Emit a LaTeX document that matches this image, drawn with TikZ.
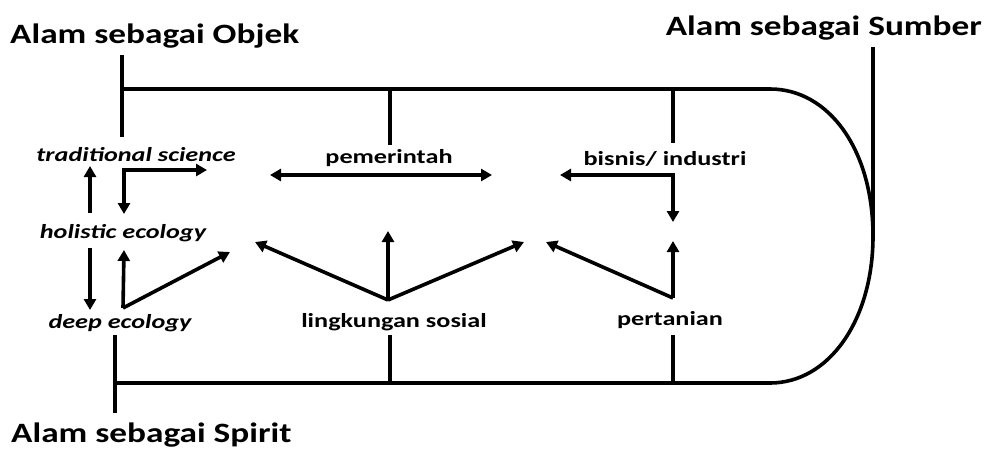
\documentclass[tikz,border=0pt]{standalone}
\usepackage{graphicx}
\usepackage{fontspec}
\setmainfont{Carlito}
\usetikzlibrary{arrows.meta}
\newcommand{\wideT}[1]{\scalebox{1.26}[1]{#1}}
\newcommand{\wideL}[1]{\scalebox{1.31}[1]{#1}}
\begin{document}
\begin{tikzpicture}[x=1pt,y=-1pt,
  ln/.style={line width=3.6pt},
  arr/.style={line width=3.6pt,-{Triangle[length=11pt,width=12pt]}},
  dar/.style={line width=3.6pt,{Triangle[length=11pt,width=12pt]}-{Triangle[length=11pt,width=12pt]}},
  ttl/.style={font=\fontsize{28}{30}\selectfont\bfseries,inner sep=0pt},
  lab/.style={font=\fontsize{20}{22}\selectfont\bfseries,inner sep=0pt},
  ilab/.style={font=\fontsize{20}{22}\selectfont\bfseries\itshape,inner sep=0pt}]
\useasboundingbox (0,0) rectangle (987,448);
% titles
\node[ttl,anchor=base west] (obj) at (10,43) {\wideT{Alam sebagai Objek}};
\node[ttl,anchor=base east] (sum) at (982,35) {\wideT{Alam sebagai Sumber}};
\node[ttl,anchor=base west] (spi) at (11,442) {\wideT{Alam sebagai Spirit}};
% labels
\node[ilab,anchor=base] (ts) at (136,161) {\wideL{traditional science}};
\node[ilab,anchor=base] (he) at (123,238) {\wideL{holistic ecology}};
\node[ilab,anchor=base] (de) at (120,328) {\wideL{deep ecology}};
\node[lab,anchor=base] (pem) at (389,163) {\wideL{pemerintah}};
\node[lab,anchor=base] (bis) at (665,165) {\wideL{bisnis/ industri}};
\node[lab,anchor=base] (ls) at (394,327) {\wideL{lingkungan sosial}};
\node[lab,anchor=base] (per) at (670,325) {\wideL{pertanian}};
% frame
\coordinate (oT) at (122,55);
\coordinate (oB) at (122,137);
\coordinate (tR) at (770,89);
\coordinate (bR) at (770,383);
\coordinate (bL) at (115,383);
\coordinate (rM) at (873,236);
\draw[ln] (oT) -- (oB);
\draw[ln] (122,89) -- (tR) .. controls (829,89) and (873,150) .. (rM)
  .. controls (873,320) and (829,383) .. (bR) -- (bL);
\draw[ln] (873,47) -- (rM);
\draw[ln] (115,335) -- (115,413);
\draw[ln] (390,89) -- (390,145);
\draw[ln] (673,89) -- (673,143);
\draw[ln] (390,335) -- (390,383);
\draw[ln] (673,335) -- (673,383);
% left arrows
\coordinate (tsR) at (207,170);
\coordinate (tsC) at (124,170);
\coordinate (hoT) at (124,214);
\draw[dar] (tsR) -- (tsC) -- (hoT);
\draw[arr] (90,213) -- (90,166);
\draw[arr] (90,248) -- (90,310);
\coordinate (deC) at (123,308);
\draw[arr] (deC) -- (124,250);
\draw[arr] (deC) -- (230,252);
% pemerintah
\draw[dar] (270,175) -- (492,175);
% bisnis
\draw[dar] (560,175) -- (673,175) -- (673,222);
% lingkungan
\coordinate (lsC) at (388,300);
\draw[arr] (lsC) -- (255,242);
\draw[arr] (lsC) -- (388,231);
\draw[arr] (lsC) -- (524,242);
% pertanian
\coordinate (peC) at (673,298);
\draw[arr] (peC) -- (673,241);
\draw[arr] (peC) -- (546,242);
\end{tikzpicture}
\end{document}
